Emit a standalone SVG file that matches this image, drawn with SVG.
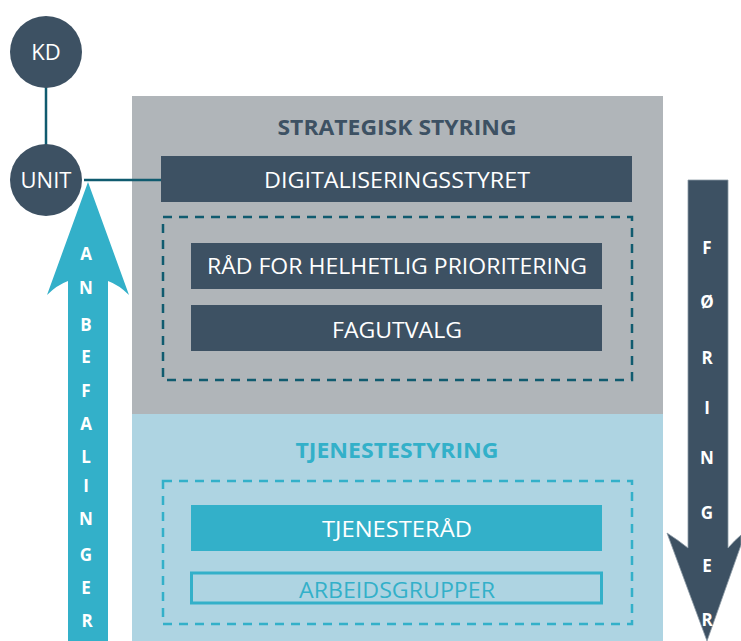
<svg xmlns="http://www.w3.org/2000/svg" width="741" height="641" viewBox="0 0 741 641">
<style>
.t{font-family:"Open Sans","Noto Sans",sans-serif;text-anchor:middle}
.w{fill:#ffffff;font-size:22px}
.h{font-size:22px;font-weight:bold}
.box{fill:#3d5163}
.lt{fill:#ffffff;font-size:17px;font-weight:bold}
</style>
<rect width="741" height="641" fill="#ffffff"/>
<g id="strategisk">
<rect x="132" y="96" width="531" height="318" fill="#b0b5b9"/>
<text class="t h" x="397" y="135" fill="#3d5163" textLength="239" lengthAdjust="spacingAndGlyphs">STRATEGISK STYRING</text>
</g>
<g id="tjeneste">
<rect x="132" y="414" width="531" height="227" fill="#aed4e2"/>
<text class="t h" x="397" y="458" fill="#33b0c9" textLength="203" lengthAdjust="spacingAndGlyphs">TJENESTESTYRING</text>
</g>
<g id="connectors">
<line x1="46" y1="86" x2="46" y2="145" stroke="#105b6f" stroke-width="2.5"/>
<line x1="84" y1="180" x2="162" y2="180" stroke="#105b6f" stroke-width="2.5"/>
</g>
<g id="kd">
<circle cx="46" cy="52" r="36" fill="#3d5163"/>
<text class="t w" x="46" y="60">KD</text>
</g>
<g id="unit">
<circle cx="46" cy="180" r="36" fill="#3d5163"/>
<text class="t w" x="46" y="188">UNIT</text>
</g>
<g id="digitaliseringsstyret">
<rect class="box" x="161" y="156" width="471" height="46"/>
<text class="t w" x="397" y="188" textLength="266" lengthAdjust="spacingAndGlyphs">DIGITALISERINGSSTYRET</text>
</g>
<g id="strategisk-gruppe">
<rect x="163" y="217" width="469" height="163" fill="none" stroke="#105b6f" stroke-width="2.5" stroke-dasharray="9,7"/>
</g>
<g id="rad">
<rect class="box" x="191" y="243" width="411" height="46"/>
<text class="t w" x="397" y="274" textLength="380" lengthAdjust="spacingAndGlyphs">RÅD FOR HELHETLIG PRIORITERING</text>
</g>
<g id="fagutvalg">
<rect class="box" x="191" y="305" width="411" height="46"/>
<text class="t w" x="397" y="338" textLength="130" lengthAdjust="spacingAndGlyphs">FAGUTVALG</text>
</g>
<g id="tjeneste-gruppe">
<rect x="163" y="481" width="469" height="143" fill="none" stroke="#33b0c9" stroke-width="2.5" stroke-dasharray="9,7"/>
</g>
<g id="tjenesterad">
<rect x="191" y="505" width="411" height="46" fill="#33b0c9"/>
<text class="t w" x="397" y="537" textLength="150" lengthAdjust="spacingAndGlyphs">TJENESTERÅD</text>
</g>
<g id="arbeidsgrupper">
<rect x="191.5" y="573" width="410" height="30" fill="none" stroke="#33b0c9" stroke-width="3"/>
<text class="t" x="397" y="598" fill="#33b0c9" font-size="22" textLength="196" lengthAdjust="spacingAndGlyphs">ARBEIDSGRUPPER</text>
</g>
<g id="anbefalinger">
<path d="M68,641 L68,281 Q57,285 47,295 L88,182 L129,295 Q119,285 108,281 L108,641 Z" fill="#33b0c9"/>
<g class="t lt">
<text x="86" y="260">A</text>
<text x="86" y="294">N</text>
<text x="86" y="331">B</text>
<text x="86" y="363">E</text>
<text x="86" y="397">F</text>
<text x="86" y="430">A</text>
<text x="86" y="463">L</text>
<text x="86" y="492">I</text>
<text x="86" y="525">N</text>
<text x="86" y="561">G</text>
<text x="86" y="594">E</text>
<text x="87" y="627">R</text>
</g>
</g>
<g id="foringer">
<path d="M688,180 L728,180 L728,548 Q735,540 741,535 L741,545 L707,641 L667,533 Q678,540 688,548 Z" fill="#3d5163" stroke="#8c99a4" stroke-width="0.8"/>
<g class="t lt">
<text x="707" y="254">F</text>
<text x="707" y="308">Ø</text>
<text x="707" y="364">R</text>
<text x="707" y="414">I</text>
<text x="707" y="464">N</text>
<text x="707" y="519">G</text>
<text x="707" y="572">E</text>
<text x="707" y="626">R</text>
</g>
</g>
</svg>
